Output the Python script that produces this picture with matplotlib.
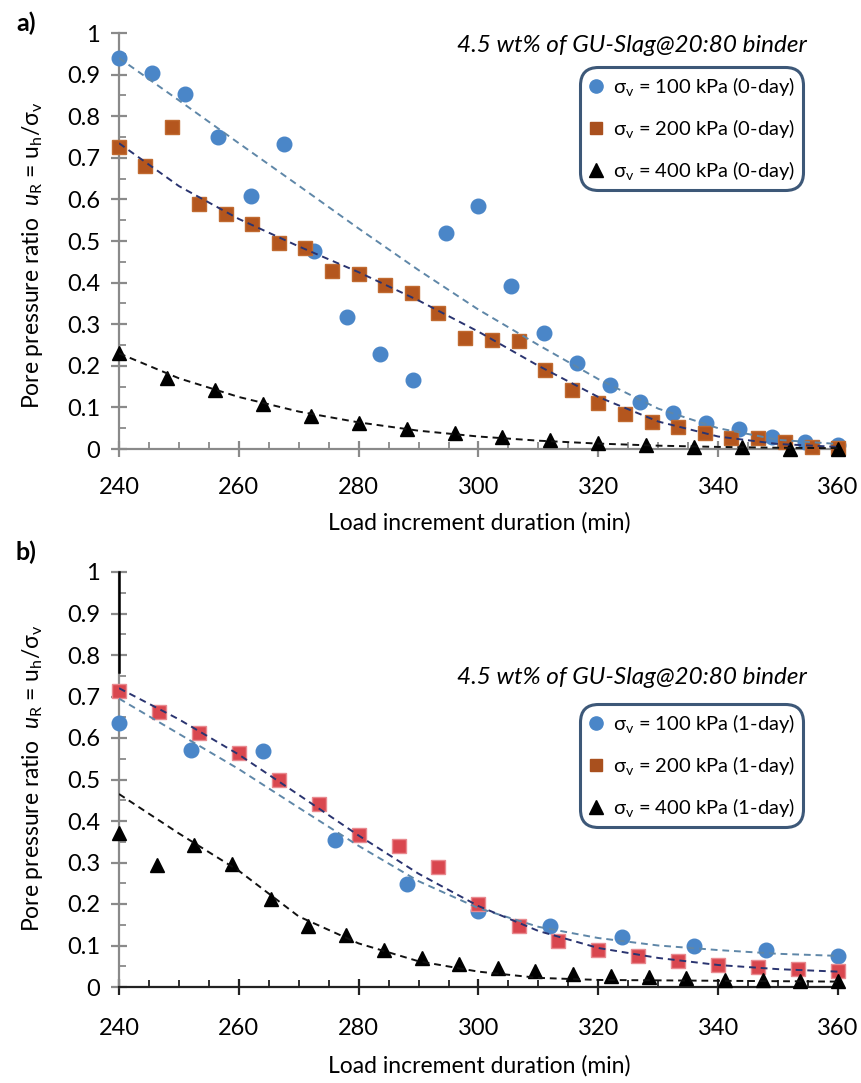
import numpy as np
import matplotlib
matplotlib.use("Agg")
import matplotlib.pyplot as plt
from matplotlib.lines import Line2D
from matplotlib.ticker import MultipleLocator, FuncFormatter

plt.rcParams['font.family'] = ['Lato', 'DejaVu Sans']
plt.rcParams['mathtext.fontset'] = 'custom'
plt.rcParams['mathtext.rm'] = 'Lato'
plt.rcParams['mathtext.it'] = 'Lato:italic'
plt.rcParams['mathtext.fallback'] = 'stixsans'

# ---- panel a: 0-day ----
t_a100 = [240, 245.5, 251, 256.5, 262, 267.5, 272.5, 278, 283.5, 289, 294.5, 300,
          305.5, 311, 316.5, 322, 327, 332.5, 338, 343.5, 349, 354.5, 360]
u_a100 = [0.94, 0.905, 0.853, 0.75, 0.607, 0.734, 0.475, 0.318, 0.228, 0.166, 0.52, 0.585,
          0.392, 0.28, 0.206, 0.154, 0.114, 0.086, 0.063, 0.048, 0.03, 0.018, 0.01]
t_a200 = [240, 244.4, 248.9, 253.3, 257.8, 262.2, 266.7, 271.1, 275.6, 280, 284.4, 288.9,
          293.3, 297.8, 302.2, 306.7, 311.1, 315.6, 320, 324.4, 328.9, 333.3, 337.8, 342.2,
          346.7, 351.1, 355.6, 360]
u_a200 = [0.727, 0.68, 0.775, 0.59, 0.566, 0.54, 0.494, 0.482, 0.428, 0.42, 0.394, 0.374,
          0.326, 0.266, 0.263, 0.26, 0.19, 0.142, 0.11, 0.084, 0.066, 0.054, 0.038, 0.026,
          0.026, 0.016, 0.006, 0.002]
t_a400 = [240, 248, 256, 264, 272, 280, 288, 296, 304, 312, 320, 328, 336, 344, 352, 360]
u_a400 = [0.23, 0.171, 0.142, 0.108, 0.08, 0.062, 0.047, 0.038, 0.03, 0.022, 0.015, 0.01,
          0.006, 0.004, 0.001, 0.0]

# ---- panel b: 1-day ----
t_b100 = [240, 252, 264, 276, 288, 300, 312, 324, 336, 348, 360]
u_b100 = [0.635, 0.57, 0.568, 0.355, 0.249, 0.184, 0.146, 0.12, 0.1, 0.09, 0.075]
t_b200 = [240, 246.7, 253.3, 260, 266.7, 273.3, 280, 286.7, 293.3, 300, 306.7, 313.3, 320,
          326.7, 333.3, 340, 346.7, 353.3, 360]
u_b200 = [0.713, 0.663, 0.611, 0.565, 0.5, 0.44, 0.367, 0.34, 0.289, 0.2, 0.146, 0.112,
          0.088, 0.075, 0.062, 0.054, 0.047, 0.044, 0.038]
t_b400 = [240, 246.3, 252.6, 258.9, 265.3, 271.6, 277.9, 284.2, 290.5, 296.8, 303.2, 309.5,
          315.8, 322.1, 328.4, 334.7, 341.1, 347.4, 353.7, 360]
u_b400 = [0.371, 0.295, 0.343, 0.296, 0.212, 0.146, 0.126, 0.088, 0.07, 0.055, 0.046, 0.038,
          0.032, 0.027, 0.024, 0.022, 0.018, 0.018, 0.015, 0.015]

# trendlines
trend_t = [240, 250, 260, 270, 280, 290, 300, 310, 320, 330, 340, 350, 360]
tr_a100 = [0.94, 0.838, 0.735, 0.633, 0.53, 0.43, 0.335, 0.25, 0.168, 0.097, 0.05, 0.022, 0.012]
tr_a200 = [0.735, 0.632, 0.553, 0.487, 0.425, 0.357, 0.282, 0.2, 0.125, 0.066, 0.03, 0.012, 0.005]
tr_a400 = [0.23, 0.17, 0.125, 0.09, 0.064, 0.044, 0.03, 0.02, 0.013, 0.008, 0.005, 0.003, 0.002]
tr_b100 = [0.695, 0.61, 0.525, 0.432, 0.34, 0.255, 0.19, 0.145, 0.118, 0.1, 0.089, 0.08, 0.075]
tr_b200 = [0.72, 0.645, 0.56, 0.463, 0.365, 0.273, 0.195, 0.135, 0.094, 0.07, 0.053, 0.043, 0.037]
tr_b400 = [0.465, 0.37, 0.28, 0.17, 0.105, 0.062, 0.037, 0.022, 0.017, 0.016, 0.015, 0.014, 0.013]

labels_a = ['σ$_\\mathregular{v}$ = 100 kPa (0-day)', 'σ$_\\mathregular{v}$ = 200 kPa (0-day)',
            'σ$_\\mathregular{v}$ = 400 kPa (0-day)']
labels_b = ['σ$_\\mathregular{v}$ = 100 kPa (1-day)', 'σ$_\\mathregular{v}$ = 200 kPa (1-day)',
            'σ$_\\mathregular{v}$ = 400 kPa (1-day)']
note = '4.5 wt% of GU-Slag@20:80 binder'
ylab = 'Pore pressure ratio  $\\mathit{u}_\\mathregular{R}$ = u$_\\mathregular{h}$/σ$_\\mathregular{v}$'
xlab = 'Load increment duration (min)'

BLUE = '#4a86c8'
BROWN = '#b4561e'
RED = '#d9474f'
BLUE_TR = '#5f87a8'
NAVY_TR = '#2a3470'
GRAY = '#8a8a8a'

W, H = 861, 1083
fig = plt.figure(figsize=(W / 100, H / 100), dpi=100)
ax_a = fig.add_axes([119 / W, 1 - 449 / H, 719 / W, 416 / H])
ax_b = fig.add_axes([119 / W, 1 - 987 / H, 719 / W, 415 / H])


def style_axes(ax, xcolor, xpad):
    ax.set_xlim(240, 360)
    ax.set_ylim(0, 1)
    for s in ['top', 'right']:
        ax.spines[s].set_visible(False)
    ax.spines['left'].set_color(GRAY)
    ax.spines['left'].set_linewidth(1.6)
    ax.spines['bottom'].set_color(xcolor)
    ax.spines['bottom'].set_linewidth(1.6)
    ax.xaxis.set_major_locator(MultipleLocator(20))
    ax.xaxis.set_minor_locator(MultipleLocator(5))
    ax.yaxis.set_major_locator(MultipleLocator(0.1))
    ax.yaxis.set_minor_locator(MultipleLocator(0.05))
    ax.yaxis.set_major_formatter(FuncFormatter(lambda v, p: f'{v:.1f}'.rstrip('0').rstrip('.') if v else '0'))
    ax.tick_params(which='major', direction='inout', length=11, width=1.6, labelsize=17)
    ax.tick_params(which='minor', direction='in', length=5, width=1.3)
    ax.tick_params(axis='y', which='both', color=GRAY, pad=8)
    ax.tick_params(axis='x', which='both', color=xcolor, pad=xpad)
    ax.patch.set_alpha(0)


def draw(ax, t1, u1, t2, u2, t3, u3, tr1, tr2, tr3, sq_color, sq_edge):
    ax.plot(t1, u1, 'o', color=BLUE, ms=10.5, mec=BLUE, zorder=3, clip_on=False)
    ax.plot(t2, u2, 's', color=sq_color, ms=9.5, mec=sq_edge, mew=1, zorder=3, clip_on=False)
    ax.plot(t3, u3, '^', color='black', ms=9.5, zorder=3, clip_on=False)
    ax.plot(trend_t, tr1, color=BLUE_TR, lw=1.4, ls=(0, (3.5, 2.5)), zorder=4)
    ax.plot(trend_t, tr2, color=NAVY_TR, lw=1.4, ls=(0, (3.5, 2.5)), zorder=4)
    ax.plot(trend_t, tr3, color='#111111', lw=1.4, ls=(0, (3.5, 2.5)), zorder=4)


def add_legend(ax, labels, top_px):
    handles = [Line2D([], [], marker='o', ls='none', color=BLUE, ms=9.5),
               Line2D([], [], marker='s', ls='none', color='#a9501e', ms=9),
               Line2D([], [], marker='^', ls='none', color='black', ms=9.5)]
    leg = ax.legend(handles, labels, loc='upper left', bbox_to_anchor=(580 / W, 1 - top_px / H),
                    bbox_transform=fig.transFigure, borderaxespad=0, frameon=True, fancybox=True,
                    fontsize=14.5, labelspacing=0.95, handlelength=0.8, handletextpad=0.45,
                    borderpad=0.4)
    fr = leg.get_frame()
    fr.set_edgecolor('#3d5878')
    fr.set_linewidth(2.2)
    fr.set_facecolor('white')
    fr.set_alpha(1)
    fr.set_boxstyle('round', pad=0, rounding_size=0.9)
    leg.set_zorder(10)


style_axes(ax_a, GRAY, 15)
style_axes(ax_b, '#222222', 17)
draw(ax_a, t_a100, u_a100, t_a200, u_a200, t_a400, u_a400, tr_a100, tr_a200, tr_a400, BROWN, '#c06a30')
draw(ax_b, t_b100, u_b100, t_b200, u_b200, t_b400, u_b400, tr_b100, tr_b200, tr_b400, RED, '#e98a90')
add_legend(ax_a, labels_a, 67)
add_legend(ax_b, labels_b, 704)

# black top part of the y axis in panel b and the top tick of panel a
ax_b.axvline(240, ymin=0.76, ymax=1, color='black', lw=1.8, zorder=5, clip_on=False)
for ax, lim in [(ax_a, 0.99), (ax_b, 0.76)]:
    for tk in ax.yaxis.get_major_ticks() + ax.yaxis.get_minor_ticks():
        if tk.get_loc() >= lim:
            tk.tick1line.set_color('black')

fig.text(26 / W, 1 - 23 / H, 'a)', fontsize=18, fontweight='bold', ha='center', va='center')
fig.text(26 / W, 1 - 552 / H, 'b)', fontsize=18, fontweight='bold', ha='center', va='center')
fig.text(807 / W, 1 - 46 / H, note, fontsize=17.5, style='italic', ha='right', va='center')
fig.text(807 / W, 1 - 677 / H, note, fontsize=17.5, style='italic', ha='right', va='center')
fig.text(479 / W, 1 - 523 / H, xlab, fontsize=16.5, ha='center', va='center')
fig.text(479 / W, 1 - 1066 / H, xlab, fontsize=16.5, ha='center', va='center')
fig.text(33 / W, 1 - 255 / H, ylab, fontsize=16.5, rotation=90, ha='center', va='center')
fig.text(33 / W, 1 - 778 / H, ylab, fontsize=16.5, rotation=90, ha='center', va='center')

fig.savefig('out.png', dpi=100, facecolor='white')
